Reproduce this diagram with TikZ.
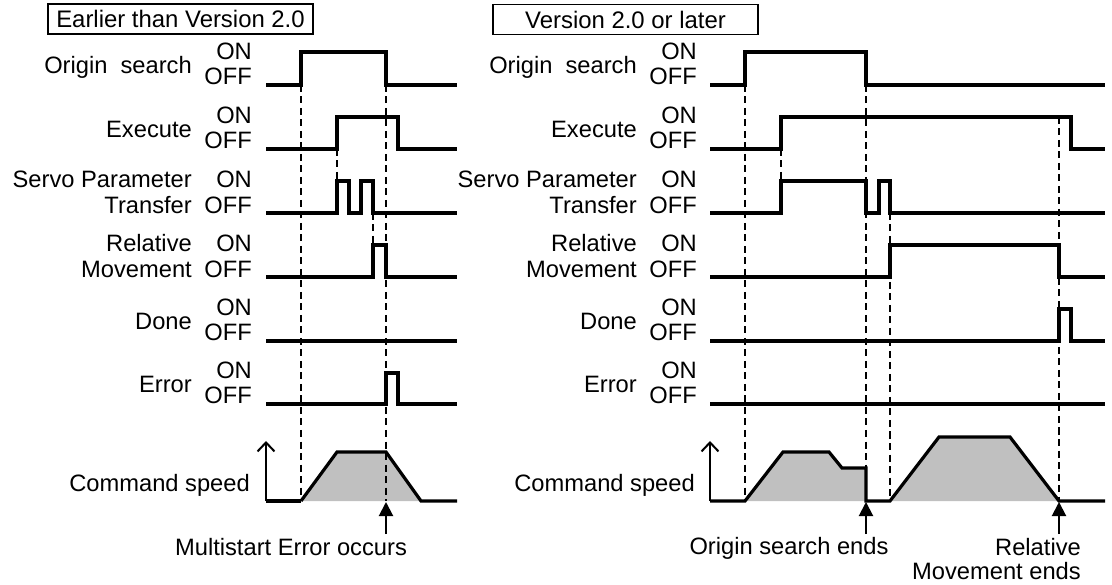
\documentclass[tikz,border=0pt]{standalone}
\usepackage{fontspec}
\setmainfont{Liberation Sans}
\usetikzlibrary{arrows.meta}
\definecolor{spd}{RGB}{192,192,192}
\begin{document}
\begin{tikzpicture}[x=1pt,y=-1pt,
  sig/.style={line width=3.2pt, line join=miter},
  dsh/.style={line width=1.4pt, dash pattern=on 7pt off 4.5pt},
  lbl/.style={inner sep=0pt, font=\fontsize{23.7}{26}\selectfont},
  lblr/.style={lbl, anchor=base east},
  titlebox/.style={draw, line width=1.3pt, minimum width=265pt, minimum height=30pt, inner sep=0pt, font=\fontsize{23.9}{26}\selectfont},
  axisarrow/.style={line width=2pt, -{Straight Barb[length=9pt,width=17pt,line width=2pt]}},
  markarrow/.style={line width=2pt, -{Triangle[length=14pt,width=14pt]}},
]
\useasboundingbox (0,0) rectangle (1112,585);

% title boxes
\node[titlebox] (tL) at (180.5,19) {Earlier than Version 2.0};
\node[titlebox] (tR) at (625.5,19.5) {Version 2.0 or later};

% labels for both panels
\foreach \dx/\p in {0/L,445/R}{
  \node[lblr] (os\p)   at (192+\dx,74)  {Origin\ \ search};
  \node[lblr] (osn\p)  at (252+\dx,60)  {ON};
  \node[lblr] (osf\p)  at (252+\dx,85)  {OFF};
  \node[lblr] (ex\p)   at (192+\dx,138) {Execute};
  \node[lblr] (exn\p)  at (252+\dx,124) {ON};
  \node[lblr] (exf\p)  at (252+\dx,149) {OFF};
  \node[lblr] (sp\p)   at (192+\dx,188) {Servo Parameter};
  \node[lblr] (spb\p)  at (192+\dx,214) {Transfer};
  \node[lblr] (spn\p)  at (252+\dx,188) {ON};
  \node[lblr] (spf\p)  at (252+\dx,214) {OFF};
  \node[lblr] (rm\p)   at (192+\dx,252) {Relative};
  \node[lblr] (rmb\p)  at (192+\dx,278) {Movement};
  \node[lblr] (rmn\p)  at (252+\dx,252) {ON};
  \node[lblr] (rmf\p)  at (252+\dx,278) {OFF};
  \node[lblr] (dn\p)   at (192+\dx,330) {Done};
  \node[lblr] (dnn\p)  at (252+\dx,316) {ON};
  \node[lblr] (dnf\p)  at (252+\dx,341) {OFF};
  \node[lblr] (er\p)   at (192+\dx,393) {Error};
  \node[lblr] (ern\p)  at (252+\dx,379) {ON};
  \node[lblr] (erf\p)  at (252+\dx,404) {OFF};
  \node[lblr] (cs\p)   at (250+\dx,491) {Command speed};
}

% ---------- LEFT PANEL ----------
\fill[spd] (301,501) -- (337,452) -- (386,452) -- (421,501) -- cycle;
\draw[dsh] (301,85) -- (301,501);
\draw[dsh] (386,85) -- (386,501);
\draw[dsh] (337,149) -- (337,181);
\draw[dsh] (373,213) -- (373,245);

\draw[sig] (266,85) -- (301,85) -- (301,52) -- (386,52) -- (386,85) -- (457,85);
\draw[sig] (266,149) -- (337,149) -- (337,117) -- (398,117) -- (398,149) -- (457,149);
\draw[sig] (266,213) -- (337,213) -- (337,181) -- (349,181) -- (349,213) -- (361,213) -- (361,181) -- (373,181) -- (373,213) -- (457,213);
\draw[sig] (266,277) -- (373,277) -- (373,245) -- (386,245) -- (386,277) -- (457,277);
\draw[sig] (266,341) -- (457,341);
\draw[sig] (266,404) -- (386,404) -- (386,373) -- (398,373) -- (398,404) -- (457,404);
\draw[sig] (301,501) -- (337,452) -- (386,452) -- (421,501) -- (457,501);
\coordinate (axL0) at (266,501);
\coordinate (axL1) at (266,441);
\draw[sig] (axL0) -- (301,501);
\draw[axisarrow] (axL0) -- (axL1);

\node[lbl, anchor=base] (mse) at (291,555) {Multistart Error occurs};
\coordinate (tipL) at (386,502);
\draw[markarrow] (386,534) -- (tipL);

% ---------- RIGHT PANEL ----------
\fill[spd] (745,501) -- (783,452) -- (829,452) -- (842,468) -- (866,468) -- (866,501) -- cycle;
\fill[spd] (890,501) -- (939,437) -- (1010,437) -- (1059,501) -- cycle;
\draw[dsh] (745,85) -- (745,501);
\draw[dsh] (866,85) -- (866,501);
\draw[dsh] (781,149) -- (781,181);
\draw[dsh] (890,213) -- (890,501);
\draw[dsh] (1059,117) -- (1059,501);

\draw[sig] (710,85) -- (745,85) -- (745,52) -- (866,52) -- (866,85) -- (1105,85);
\draw[sig] (710,149) -- (781,149) -- (781,117) -- (1071,117) -- (1071,149) -- (1105,149);
\draw[sig] (710,213) -- (781,213) -- (781,181) -- (866,181) -- (866,213) -- (879,213) -- (879,181) -- (890,181) -- (890,213) -- (1105,213);
\draw[sig] (710,277) -- (890,277) -- (890,245) -- (1059,245) -- (1059,277) -- (1105,277);
\draw[sig] (710,341) -- (1059,341) -- (1059,309) -- (1071,309) -- (1071,341) -- (1105,341);
\draw[sig] (710,404) -- (1105,404);
\coordinate (axR0) at (710,501);
\coordinate (axR1) at (710,441);
\draw[sig] (axR0) -- (745,501) -- (783,452) -- (829,452) -- (842,468) -- (866,468) -- (866,501) -- (890,501) -- (939,437) -- (1010,437) -- (1059,501) -- (1105,501);
\draw[axisarrow] (axR0) -- (axR1);

\node[lbl, anchor=base] (ose) at (789,554) {Origin search ends};
\coordinate (tipR1) at (866,502);
\draw[markarrow] (866,534) -- (tipR1);
\node[lblr] (rme1) at (1081,555) {Relative};
\node[lblr] (rme2) at (1081,579) {Movement ends};
\coordinate (tipR2) at (1059,502);
\draw[markarrow] (1059,534) -- (tipR2);
\end{tikzpicture}
\end{document}
